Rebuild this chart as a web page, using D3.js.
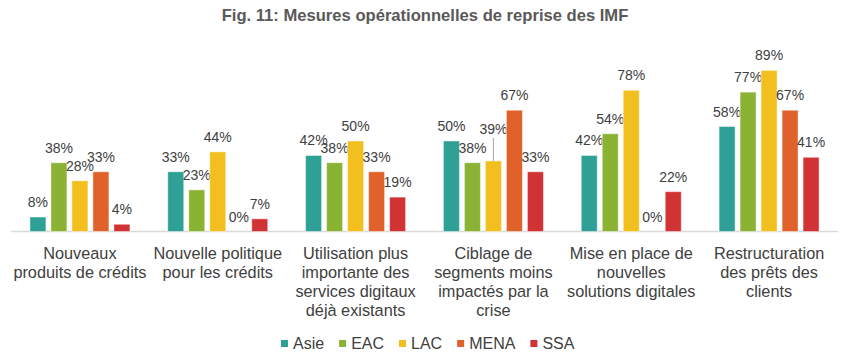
<!DOCTYPE html>
<html><head><meta charset="utf-8">
<script src="https://cdn.jsdelivr.net/npm/d3@7"></script>
<style>body{margin:0;background:#fff;} svg{display:block;font-family:"Liberation Sans",Arial,sans-serif;}</style>
</head><body>
<svg id="c" width="850" height="363"></svg>
<script>
const title = "Fig. 11: Mesures opérationnelles de reprise des IMF";
const categories = [
  ["Nouveaux","produits de crédits"],
  ["Nouvelle politique","pour les crédits"],
  ["Utilisation plus","importante des","services digitaux","déjà existants"],
  ["Ciblage de","segments moins","impactés par la","crise"],
  ["Mise en place de","nouvelles","solutions digitales"],
  ["Restructuration","des prêts des","clients"]
];
const series = ["Asie","EAC","LAC","MENA","SSA"];
const colors = ["#2FA096","#8AB333","#F2BF1E","#E0622A","#D13234"];
const asie = [8,33,42,50,42,58];
const eac  = [38,23,38,38,54,77];
const lac  = [28,44,50,39,78,89];
const mena = [33,0,33,67,0,67];
const ssa  = [4,7,19,33,22,41];
const values = [asie,eac,lac,mena,ssa];

const svg = d3.select("#c");
const catIdx = d3.range(categories.length);
const x0 = d3.scaleBand().domain(catIdx).range([11,838]).padding(0);
const groupW = 100;
const x1 = d3.scaleBand().domain(series).range([0,groupW]).paddingInner(5/21).paddingOuter(0);
const y = d3.scaleLinear().domain([0,100]).range([231.5,50.5]);

svg.append("text").attr("x",425).attr("y",21).attr("text-anchor","middle")
  .attr("font-size",16.6).attr("font-weight","bold").attr("fill","#595959").text(title);

// axis line
svg.append("line").attr("x1",11).attr("x2",838).attr("y1",231.5).attr("y2",231.5)
  .attr("stroke","#d9d9d9").attr("stroke-width",1.5);

const gx = c => x0(c) + (x0.bandwidth()-groupW)/2;

series.forEach((s,si)=>{
  const g = svg.append("g");
  catIdx.forEach(ci=>{
    const v = values[si][ci];
    const bx = gx(ci)+x1(s);
    if(v>0){
      g.append("rect").attr("x",bx).attr("y",y(v)).attr("width",x1.bandwidth())
        .attr("height",y(0)-y(v)).attr("fill",colors[si])
        .attr("stroke","#ffffff").attr("stroke-opacity",0.45).attr("stroke-width",1);
    }
    let ly = y(v)-10;
    const cx = bx + x1.bandwidth()/2;
    if(ci===3 && s==="LAC"){
      ly -= 17;
      svg.append("line").attr("x1",cx).attr("x2",cx).attr("y1",ly+4).attr("y2",y(v))
        .attr("stroke","#a6a6a6").attr("stroke-width",1);
    }
    svg.append("text").attr("x",cx).attr("y",ly).attr("text-anchor","middle")
      .attr("font-size",14).attr("fill","#404040").text(v+"%");
  });
});

// category labels
catIdx.forEach(ci=>{
  const t = svg.append("text").attr("text-anchor","middle").attr("font-size",16.3).attr("fill","#404040");
  categories[ci].forEach((line,li)=>{
    t.append("tspan").attr("x",x0(ci)+x0.bandwidth()/2).attr("y",259+li*19).text(line);
  });
});

// legend
let lx = 281;
series.forEach((s,si)=>{
  svg.append("rect").attr("x",lx).attr("y",340).attr("width",7).attr("height",7).attr("fill",colors[si]);
  const t = svg.append("text").attr("x",lx+12).attr("y",349).attr("font-size",16).attr("fill","#404040").text(s);
  lx += 12 + t.node().getComputedTextLength() + 15;
});
</script>
</body></html>
